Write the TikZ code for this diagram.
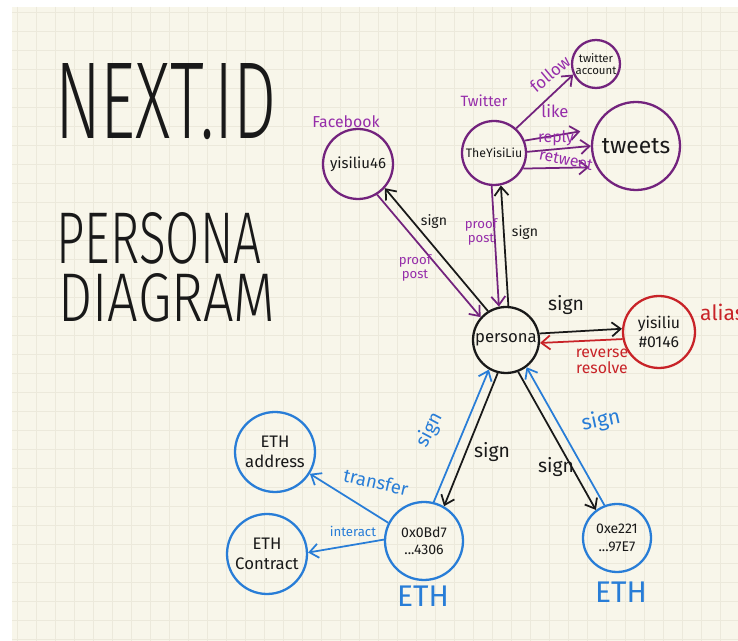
\documentclass[tikz,border=0pt]{standalone}
\usepackage{graphicx}
\usepackage{fontspec}
\setmainfont{Fira Sans}
\newfontfamily\titlefont{Fira Sans Light}
\usetikzlibrary{arrows.meta}

\definecolor{paper}{RGB}{248,246,234}
\definecolor{gridln}{RGB}{236,233,219}
\definecolor{ink}{RGB}{25,25,25}
\definecolor{grape}{RGB}{115,35,125}
\definecolor{lilac}{RGB}{150,45,170}
\definecolor{rust}{RGB}{200,35,40}
\definecolor{sky}{RGB}{40,125,215}

\begin{document}
\begin{tikzpicture}[x=0.02cm,y=-0.02cm,
    acct/.style={circle,draw,line width=1.3pt,inner sep=0pt,align=center,text=ink},
    link/.style={line width=1pt,-{Straight Barb[length=5pt,width=8pt]}},
    tag/.style={inner sep=0.5pt,align=center}]
    % paper with its grid
    \useasboundingbox (0,0) rectangle (738,641);
    \fill[white] (0,0) rectangle (738,641);
    \fill[paper] (12,7) rectangle (738,641);
    \foreach \gx in {17,36,...,738} \draw[gridln,line width=0.4pt] (\gx,7) -- (\gx,641);
    \foreach \gy in {12,31,...,641} \draw[gridln,line width=0.4pt] (12,\gy) -- (738,\gy);

    % title
    \node[inner sep=0pt,ink] at (166,102) (title) {\resizebox{4.44cm}{1.5cm}{\titlefont NEXT.ID}};
    \node[inner sep=0pt,ink] at (159,238) (sub1) {\resizebox{4.1cm}{1.02cm}{\titlefont PERSONA}};
    \node[inner sep=0pt,ink] at (167,298) (sub2) {\resizebox{4.34cm}{0.96cm}{\titlefont DIAGRAM}};

    % accounts
    \node[acct,draw=ink,minimum size=1.32cm,font=\fontsize{9.5}{10}\selectfont] at (506,340) (persona) {persona};
    \node[acct,draw=grape,minimum size=1.4cm,font=\fontsize{8.5}{9}\selectfont] at (358,164) (fb) {yisiliu46};
    \node[acct,draw=grape,minimum size=1.28cm,font=\fontsize{7}{8}\selectfont] at (494,153) (tw) {TheYisiLiu};
    \node[acct,draw=grape,minimum size=0.96cm,font=\fontsize{6.5}{7}\selectfont] at (596,64) (twacct) {twitter\\account};
    \node[acct,draw=grape,minimum size=1.76cm,font=\fontsize{13}{13}\selectfont] at (636,146) (tweets) {tweets};
    \node[acct,draw=rust,minimum size=1.44cm,font=\fontsize{9}{11}\selectfont] at (659,332) (alias) {yisiliu\\\#0146};
    \node[acct,draw=sky,minimum size=1.6cm,font=\fontsize{9.5}{11}\selectfont] at (275,452) (ethaddr) {ETH\\address};
    \node[acct,draw=sky,minimum size=1.6cm,font=\fontsize{9.5}{11}\selectfont] at (267,554) (ethcon) {ETH\\Contract};
    \node[acct,draw=sky,minimum size=1.56cm,font=\fontsize{8}{10}\selectfont] at (424,541) (wallet1) {0x0Bd7\\...4306};
    \node[acct,draw=sky,minimum size=1.36cm,font=\fontsize{8}{10}\selectfont] at (617,538) (wallet2) {0xe221\\...97E7};

    % platform names
    \node[tag,lilac,font=\fontsize{9}{9}\selectfont] at (346,122) (fbname) {Facebook};
    \node[tag,lilac,font=\fontsize{8.5}{9}\selectfont] at (484,101) (twname) {Twitter};
    \node[tag,rust,anchor=west,font=\fontsize{12}{12}\selectfont] at (699,312) (aliasname) {alias};
    \node[tag,sky,font=\fontsize{17}{17}\selectfont] at (423,596) (eth1) {ETH};
    \node[tag,sky,font=\fontsize{17}{17}\selectfont] at (621,592) (eth2) {ETH};

    % persona <-> facebook
    \draw[link,ink] (persona.122) -- (fb.-42);
    \draw[link,grape] (fb.-58) -- (persona.138);
    \node[tag,ink,font=\fontsize{8}{8}\selectfont] at (434,222) (fbsign) {sign};
    \node[tag,lilac,font=\fontsize{7.5}{8}\selectfont] at (415,268) (fbproof) {proof\\post};

    % persona <-> twitter
    \draw[link,ink] (persona.86) -- (tw.-78);
    \draw[link,grape] (tw.-94) -- (persona.102);
    \node[tag,ink,font=\fontsize{8}{8}\selectfont] at (525,233) (twsign) {sign};
    \node[tag,lilac,font=\fontsize{7.5}{8}\selectfont] at (481,232) (twproof) {proof\\post};

    % twitter actions
    \draw[link,grape] (tw.48) -- (twacct.205);
    \draw[link,grape,shorten >=8pt] (tw.22) -- (tweets.158);
    \draw[link,grape] (tw.2) -- (tweets.180);
    \draw[link,grape,shorten >=4pt] (tw.-28) -- (tweets.-152);
    \node[tag,lilac,rotate=40,font=\fontsize{9.5}{10}\selectfont] at (550,74) (follow) {follow};
    \node[tag,lilac,font=\fontsize{9.5}{10}\selectfont] at (555,111) (like) {like};
    \node[tag,lilac,font=\fontsize{9}{9}\selectfont] at (556,138) (reply) {reply};
    \node[tag,lilac,rotate=-12,font=\fontsize{9}{9}\selectfont] at (566,160) (retweet) {retweet};

    % persona <-> alias
    \draw[link,ink] (persona.11) -- (alias.175);
    \draw[link,rust] (alias.191) -- (persona.-5);
    \node[tag,ink,font=\fontsize{11}{11}\selectfont] at (566,305) (aliassign) {sign};
    \node[tag,rust,font=\fontsize{9}{9}\selectfont] at (602,361) (resolve) {reverse\\resolve};

    % persona <-> wallets
    \draw[link,ink] (persona.-104) -- (wallet1.60);
    \draw[link,sky] (wallet1.76) -- (persona.-120);
    \draw[link,ink] (persona.-69) -- (wallet2.127);
    \draw[link,sky] (wallet2.111) -- (persona.-53);
    \node[tag,sky,rotate=62,font=\fontsize{11}{11}\selectfont] at (430,430) (w1up) {sign};
    \node[tag,ink,font=\fontsize{11}{11}\selectfont] at (492,452) (w1down) {sign};
    \node[tag,ink,font=\fontsize{11}{11}\selectfont] at (556,467) (w2down) {sign};
    \node[tag,sky,rotate=12,font=\fontsize{12}{12}\selectfont] at (601,421) (w2up) {sign};

    % wallet actions
    \draw[link,sky] (wallet1.153) -- (ethaddr.-32);
    \draw[link,sky] (wallet1.178) -- (ethcon.2);
    \node[tag,sky,rotate=-13,font=\fontsize{10.5}{11}\selectfont] at (376,482) (transfer) {transfer};
    \node[tag,sky,font=\fontsize{7.5}{8}\selectfont] at (353,531) (interact) {interact};
\end{tikzpicture}
\end{document}
